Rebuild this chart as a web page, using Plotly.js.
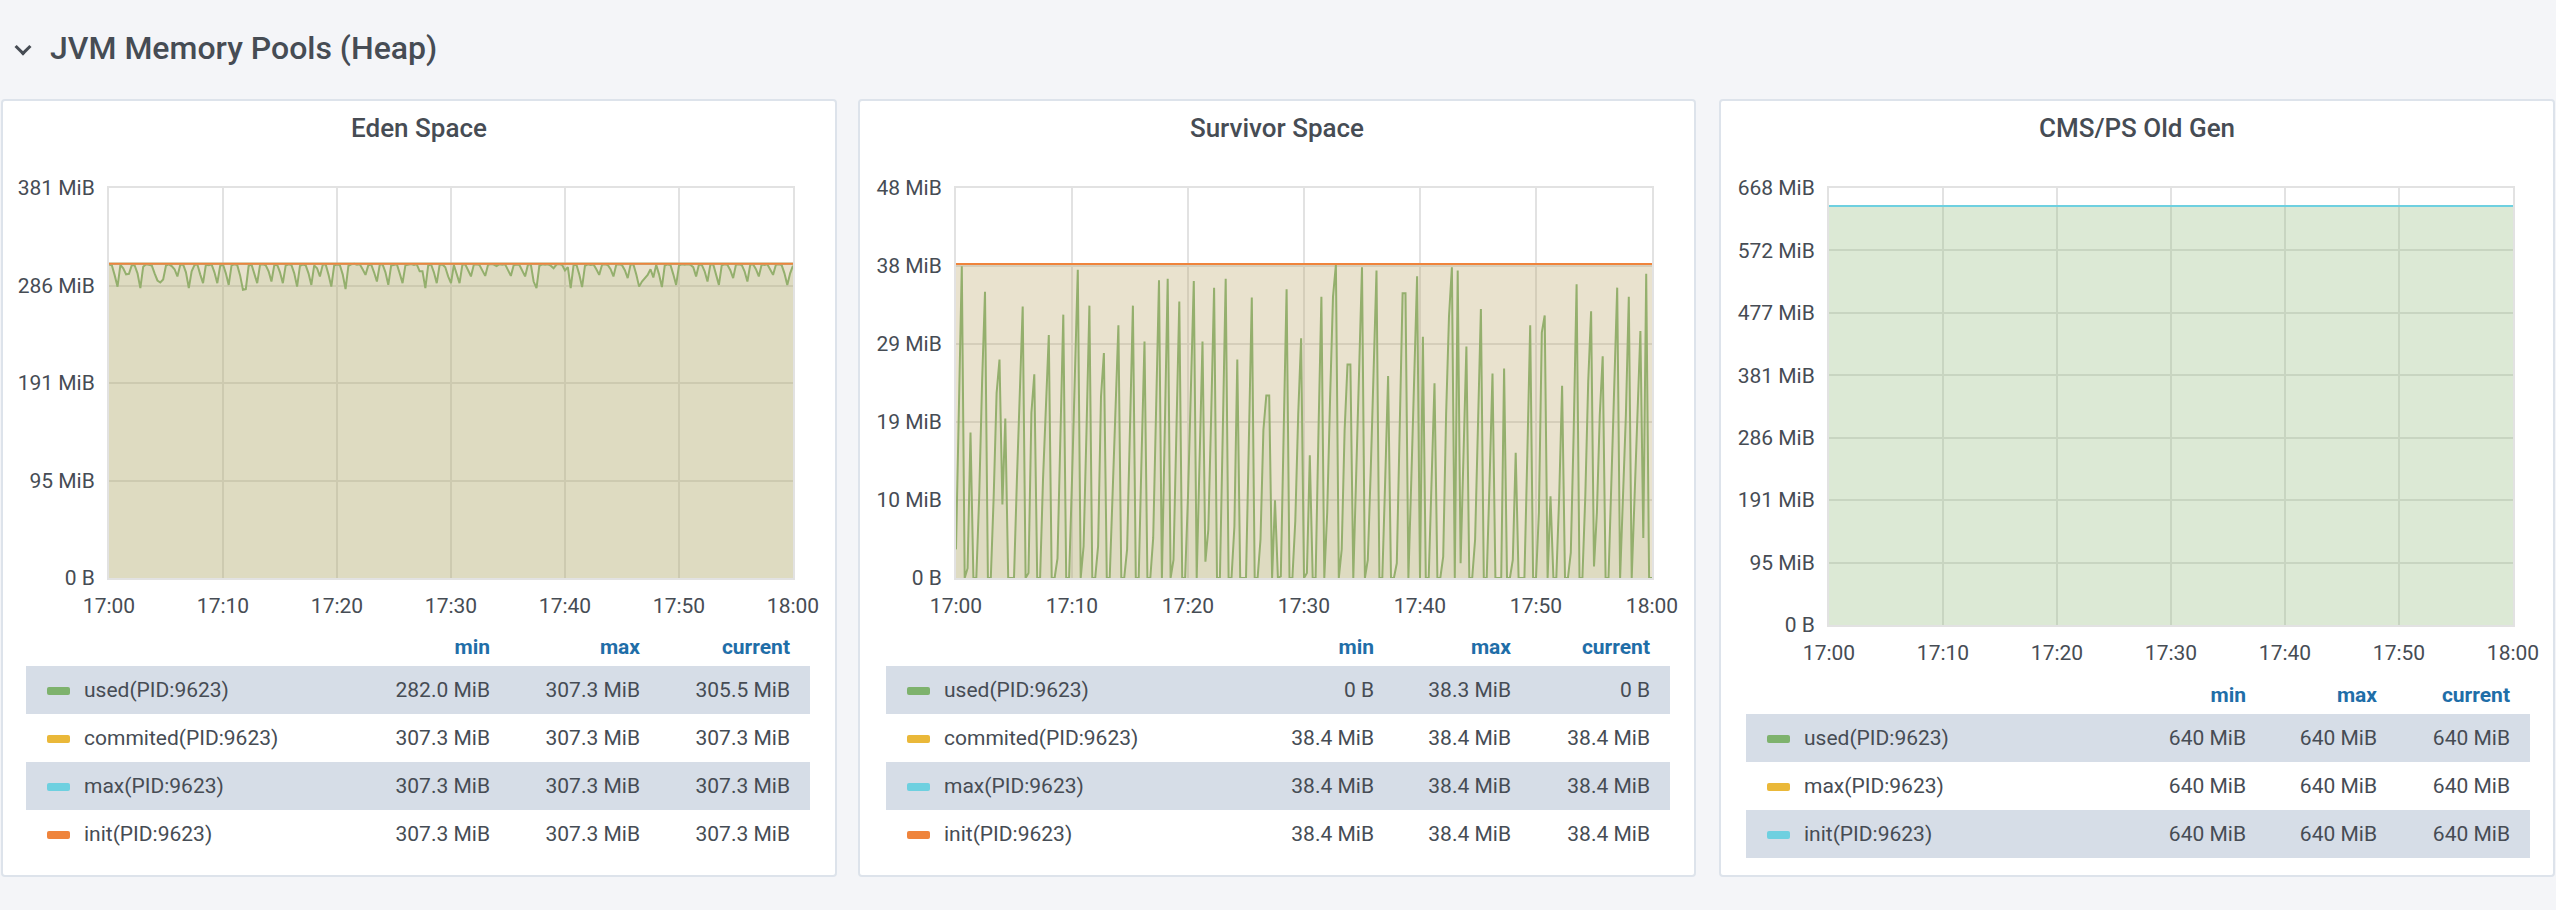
<!DOCTYPE html>
<html>
<head>
<meta charset="utf-8">
<script src="https://cdn.plot.ly/plotly-3.0.1.min.js"></script>
<style>
html,body{margin:0;padding:0;background:#f4f5f8;width:2556px;height:910px;overflow:hidden;font-family:Roboto,"Noto Sans",sans-serif;color:#464c54;}
.abs{position:absolute;}
.panel{position:absolute;background:#fff;border:2px solid #dde3eb;border-radius:4px;box-sizing:border-box;}
.ptitle{position:absolute;font-size:26px;font-weight:500;line-height:26px;text-align:center;white-space:nowrap;color:#464c54;}
.lgrow{position:absolute;height:48px;}
.lgtxt{position:absolute;font-size:21px;line-height:48px;white-space:nowrap;color:#464c54;}
.lghead{position:absolute;font-size:21px;line-height:30px;font-weight:700;color:#1f6ea8;white-space:nowrap;}
.sw{position:absolute;width:23px;height:8px;border-radius:2px;}
</style>
</head>
<body>
<script>
// ---------------- DATA ----------------
const MiB = 1048576;
const timeStart = '2024-01-01 17:00:00';
const timeEnd = '2024-01-01 18:00:00';

const seriesNames = ['used(PID:9623)', 'commited(PID:9623)', 'max(PID:9623)', 'init(PID:9623)'];
const oldGenNames = ['used(PID:9623)', 'max(PID:9623)', 'init(PID:9623)'];
const legendHeaders = ['min', 'max', 'current'];

const edenYTickBytes = [0, 1e8, 2e8, 3e8, 4e8];
const edenYTickText = ['0 B', '95 MiB', '191 MiB', '286 MiB', '381 MiB'];
const survivorYTickBytes = [0, 1e7, 2e7, 3e7, 4e7, 5e7];
const survivorYTickText = ['0 B', '10 MiB', '19 MiB', '29 MiB', '38 MiB', '48 MiB'];
const oldGenYTickBytes = [0, 1e8, 2e8, 3e8, 4e8, 5e8, 6e8, 7e8];
const oldGenYTickText = ['0 B', '95 MiB', '191 MiB', '286 MiB', '381 MiB', '477 MiB', '572 MiB', '668 MiB'];

// Eden Space used (MiB), 15 s samples 17:00 -> 18:00
const edenUsed = [
306.8,305.9,296,285,306.2,303,297,297.5,306.0,305.8,
298,283.5,304.5,306.9,306.4,305.7,298,291,289,292,
305.6,306.8,305.1,302,295,306.3,306.7,299,283.5,300,
306.1,306.8,297,288.4,306.4,305.9,306.7,299,288.4,305.2,
306.6,298,286.7,305.8,306.9,306.0,296,282.0,282.6,305.4,
306.7,298,288.4,306.3,306.8,305.9,300,290,306.1,306.5,
299,288.4,305.7,306.8,306.2,298,285,305.3,306.6,306.0,
298,286.7,305.8,303,295,306.4,306.9,297,285,305.5,
306.7,306.1,297,282.5,305.2,306.8,307.3,306.4,306.9,302,
296.5,306.0,306.7,299,290,306.3,306.8,299,286.7,305.6,
306.5,306.9,298,288.4,305.9,306.6,307.0,306.2,306.8,300,
300,283.5,305.7,306.9,299,288.4,306.1,306.7,304,295,
288.4,306.2,298,288.4,306.5,306.9,301,295,306.3,306.8,
306.1,301,295.5,306.4,307.1,306.6,305.0,306.9,306.3,306.8,
301,295.5,306.0,306.7,306.2,301,295,306.5,306.9,290,
283.5,305.4,306.8,306.3,306.9,305.5,303,306.6,307.0,306.2,
300.8,304,283.5,305.9,306.7,297,284.5,305.3,306.8,306.1,
306.7,302,296.5,306.4,306.9,306.2,302,295,306.6,306.9,
306.0,301,293.3,306.5,306.8,297,285,290,293,296.5,
302,294,306.3,297,284.5,305.6,306.7,306.2,297,286.7,
305.8,306.9,306.4,306.8,306.3,304,295,306.7,306.2,300,
290,306.5,306.9,298,286.7,305.9,306.8,306.3,301,293.3,
306.6,306.9,306.2,300,290,306.4,306.8,302,295,306.7,
306.1,306.9,302,296.5,306.3,306.8,306.2,298,286.7,298,
305.5
];
const edenCommited = [307.3, 307.3];
const edenMax = [307.3, 307.3];
const edenInit = [307.3, 307.3];

// Survivor Space used (MiB), 15 s samples
const survivorUsed = [
3.5,20,38.1,0,1.2,17.8,0,0,10,24,
35,0,0,10,22.6,26.7,9.0,19.5,0,0,
0,12,24,33.2,0,0.6,20.2,24.9,0,0,
12,22,29.7,0,0,2.4,17,32.2,0,0,
12,25,37.7,0,3.9,18,33.3,0,0,3.9,
22.2,27.5,0,0,10,21,30.9,0,0,3.5,
18,33.3,0,0,15,28.9,0,0,4.9,20,
36.4,0,18,36.6,0,2.2,18,33.8,0,0,
10,24,36.3,0,14,28.9,2.0,5.9,20,35.5,
0,0,18,36.6,0,0,6.3,26.7,0,0,
0,17,34.3,0,0,4.7,18.1,22.3,22.3,0,
9.5,0,0.2,18,35.3,0,0,7,20,29.3,
0,0.6,15.0,0,0,18,34.4,0,8,22,
34.4,38.3,0,3.5,18,26.1,26.1,0,12,25,
38.0,0,2.2,13,26,37.6,0,0,12,24.7,
0,0,1.8,18,34.8,34.8,0,12,25,36.9,
0,29.5,0,0,12,23.8,0,0,2.6,20,
32,38.0,0,37.6,1.8,15,28.3,0,0,4.7,
18,32.9,0,0,12,25.0,0,0,0,25.6,
0,0,2.2,15.3,0,0,0,15,30.9,0,
0,8,30.0,32.1,0,10.0,0,0,10,23.5,
0,0,3.1,18,35.9,0,0,10,24,32.6,
1.4,8,20,27.1,0,0,12,25,35.5,0,
9,20,34.4,0,10,20,30.2,4.9,37.2,0,
0
];
const survivorCommited = [38.4, 38.4];
const survivorMax = [38.4, 38.4];
const survivorInit = [38.4, 38.4];

// CMS/PS Old Gen (MiB)
const oldGenUsed = [640, 640];
const oldGenMax = [640, 640];
const oldGenInit = [640, 640];

// ---------------- STYLE ----------------
const C_GREEN = '#7eb26d', C_YELLOW = '#eab839', C_CYAN = '#6ed0e0', C_ORANGE = '#ef843c';

function rgba(hex, a) {
  const n = parseInt(hex.slice(1), 16);
  return 'rgba(' + (n >> 16) + ',' + ((n >> 8) & 255) + ',' + (n & 255) + ',' + a + ')';
}
function times(n) {
  const t0 = Date.UTC(2024, 0, 1, 17, 0, 0);
  const out = [];
  for (let i = 0; i < n; i++) {
    out.push(new Date(t0 + i * 3600000 / (n - 1)).toISOString().slice(0, 19).replace('T', ' '));
  }
  return out;
}
function fmt(v, dec) {
  if (v === 0) return '0 B';
  return v.toFixed(dec) + ' MiB';
}
function el(cls, css, text) {
  const d = document.createElement('div');
  d.className = cls;
  Object.assign(d.style, css);
  if (text !== undefined) d.textContent = text;
  document.body.appendChild(d);
  return d;
}

// page header
el('abs', {left: '17px', top: '41px', width: '9px', height: '9px', borderRight: '3px solid #464c54', borderBottom: '3px solid #464c54', transform: 'rotate(45deg)', transformOrigin: 'center'});
el('abs', {left: '50px', top: '32px', fontSize: '32px', lineHeight: '32px', fontWeight: '500', color: '#464c54', whiteSpace: 'nowrap'}, 'JVM Memory Pools (Heap)');

const panels = [
  {
    title: 'Eden Space', box: {left: 1, top: 99, width: 836, height: 778},
    chart: {left: 0, top: 160, width: 836, height: 470, l: 109, r: 43, t: 28, b: 52},
    ticks: edenYTickBytes, tickText: edenYTickText, decimals: 1,
    series: [
      {name: seriesNames[0], values: edenUsed, color: C_GREEN},
      {name: seriesNames[1], values: edenCommited, color: C_YELLOW},
      {name: seriesNames[2], values: edenMax, color: C_CYAN},
      {name: seriesNames[3], values: edenInit, color: C_ORANGE}
    ],
    legend: {rowL: 26, rowR: 810, headY: 632, rowTop: 666, swX: 47, txtX: 84, cols: [490, 640, 790]}
  },
  {
    title: 'Survivor Space', box: {left: 858, top: 99, width: 838, height: 778},
    chart: {left: 859, top: 160, width: 836, height: 470, l: 97, r: 43, t: 28, b: 52},
    ticks: survivorYTickBytes, tickText: survivorYTickText, decimals: 1,
    series: [
      {name: seriesNames[0], values: survivorUsed, color: C_GREEN},
      {name: seriesNames[1], values: survivorCommited, color: C_YELLOW},
      {name: seriesNames[2], values: survivorMax, color: C_CYAN},
      {name: seriesNames[3], values: survivorInit, color: C_ORANGE}
    ],
    legend: {rowL: 886, rowR: 1670, headY: 632, rowTop: 666, swX: 907, txtX: 944, cols: [1374, 1511, 1650]}
  },
  {
    title: 'CMS/PS Old Gen', box: {left: 1719, top: 99, width: 836, height: 778},
    chart: {left: 1720, top: 160, width: 835, height: 520, l: 109, r: 42, t: 28, b: 55},
    ticks: oldGenYTickBytes, tickText: oldGenYTickText, decimals: 0,
    series: [
      {name: oldGenNames[0], values: oldGenUsed, color: C_GREEN},
      {name: oldGenNames[1], values: oldGenMax, color: C_YELLOW},
      {name: oldGenNames[2], values: oldGenInit, color: C_CYAN}
    ],
    legend: {rowL: 1746, rowR: 2530, headY: 680, rowTop: 714, swX: 1767, txtX: 1804, cols: [2246, 2377, 2510]}
  }
];

panels.forEach((p, pi) => {
  el('panel', {left: p.box.left + 'px', top: p.box.top + 'px', width: p.box.width + 'px', height: p.box.height + 'px'});
  el('ptitle', {left: p.box.left + 'px', width: p.box.width + 'px', top: '115px'}, p.title);

  const c = p.chart;
  const div = el('abs', {left: c.left + 'px', top: c.top + 'px', width: c.width + 'px', height: c.height + 'px'});
  const traces = p.series.map(s => ({
    x: times(s.values.length), y: s.values, type: 'scatter', mode: 'lines',
    line: {color: s.color, width: 2}, fill: 'tozeroy', fillcolor: rgba(s.color, 0.13),
    hoverinfo: 'skip', showlegend: false
  }));
  const yMax = p.ticks[p.ticks.length - 1] / MiB;
  Plotly.newPlot(div, traces, {
    width: c.width, height: c.height,
    margin: {l: c.l, r: c.r, t: c.t, b: c.b, pad: 0},
    paper_bgcolor: 'rgba(0,0,0,0)', plot_bgcolor: '#ffffff',
    font: {family: 'Roboto', size: 21, color: '#464c54'},
    showlegend: false,
    xaxis: {type: 'date', range: [timeStart, timeEnd], tick0: timeStart, dtick: 600000, tickformat: '%H:%M',
      showgrid: true, gridcolor: '#e2e2e2', gridwidth: 2, zeroline: false,
      showline: true, mirror: true, linecolor: '#e2e2e2', linewidth: 2,
      ticks: '', ticklabelstandoff: 8, fixedrange: true},
    yaxis: {range: [0, yMax], tickmode: 'array', tickvals: p.ticks.map(b => b / MiB), ticktext: p.tickText,
      showgrid: true, gridcolor: '#e2e2e2', gridwidth: 2, zeroline: false,
      showline: true, mirror: true, linecolor: '#e2e2e2', linewidth: 2,
      ticks: '', ticklabelstandoff: 8, fixedrange: true}
  }, {staticPlot: true, displayModeBar: false});

  // legend table
  const L = p.legend;
  legendHeaders.forEach((h, i) => {
    el('lghead', {left: (L.cols[i] - 200) + 'px', width: '200px', textAlign: 'right', top: L.headY + 'px'}, h);
  });
  p.series.forEach((s, i) => {
    const top = L.rowTop + i * 48;
    el('lgrow', {left: L.rowL + 'px', width: (L.rowR - L.rowL) + 'px', top: top + 'px', background: (i % 2 === 0) ? '#d6dde7' : 'transparent'});
    el('sw', {left: L.swX + 'px', top: (top + 21) + 'px', background: s.color});
    el('lgtxt', {left: L.txtX + 'px', top: top + 'px'}, s.name);
    const vals = [Math.min(...s.values), Math.max(...s.values), s.values[s.values.length - 1]];
    vals.forEach((v, j) => {
      el('lgtxt', {left: (L.cols[j] - 200) + 'px', width: '200px', textAlign: 'right', top: top + 'px'}, fmt(v, p.decimals));
    });
  });
});
</script>
</body>
</html>
